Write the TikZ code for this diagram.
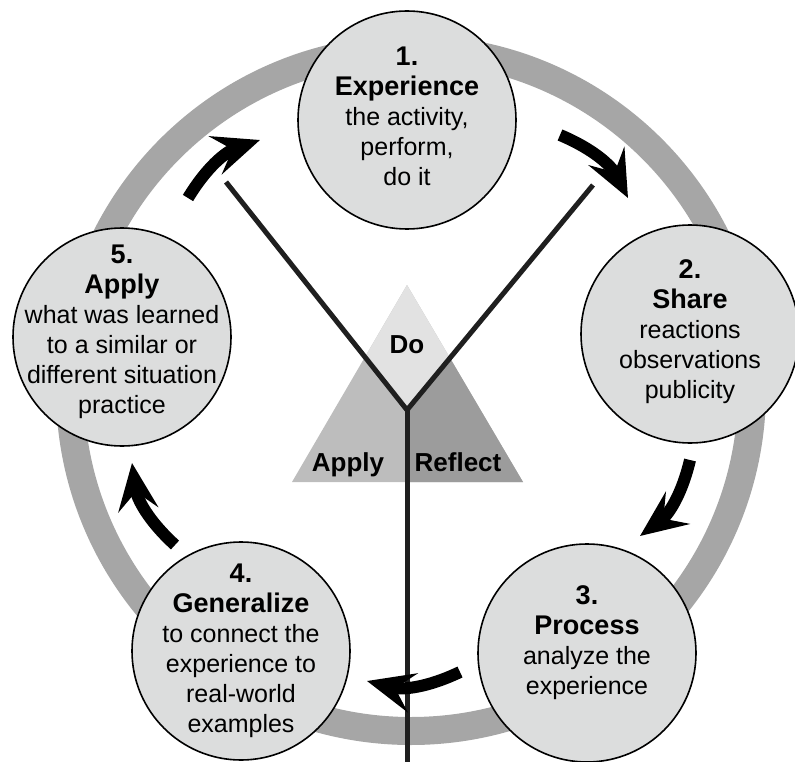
\documentclass[tikz,border=0pt]{standalone}
\usepackage{fontspec}
\setmainfont{Liberation Sans}
\usepackage{tikz}
\usetikzlibrary{arrows.meta}
\definecolor{ringgray}{HTML}{A6A6A6}
\definecolor{stagegray}{HTML}{DCDDDD}
\definecolor{dogray}{HTML}{E2E2E2}
\definecolor{applygray}{HTML}{BDBDBD}
\definecolor{reflectgray}{HTML}{9C9C9C}
\newcommand{\stagehead}[1]{{\bfseries\fontsize{27}{30}\selectfont #1}}

\begin{document}
\begin{tikzpicture}[
  x=1pt, y=1pt,
  stage/.style={circle, draw, line width=1.6pt, fill=stagegray,
                minimum size=218pt, inner sep=0pt},
  stagetext/.style={align=center, inner sep=0pt,
                    font=\fontsize{25}{30}\selectfont},
  turn/.style={line width=12pt, -{Stealth[length=47pt, width=40pt, inset=18pt]}},
  fork/.style={line width=5pt, draw=black!88, line join=miter},
  corner/.style={anchor=base, font=\bfseries\fontsize{26}{30}\selectfont}
]
  \useasboundingbox (0,0) rectangle (795,-762);

  % Ring behind the stages
  \draw[ringgray, line width=28pt] (411,-390) circle[radius=341];

  % Stages
  \node[stage] (exp) at (407,-120) {};
  \node[stage] (share) at (690,-334) {};
  \node[stage] (proc) at (587,-653) {};
  \node[stage] (gen) at (241,-651) {};
  \node[stage] (apply) at (122,-337) {};

  % Stage texts
  \node[stagetext] (exp-txt) at ([yshift=4pt]exp)
    {\stagehead{1.}\\ \stagehead{Experience}\\ the activity,\\ perform,\\ do it};
  \node[stagetext] (share-txt) at ([yshift=2pt]share)
    {\stagehead{2.}\\ \stagehead{Share}\\ reactions\\ observations\\ publicity};
  \node[stagetext] (proc-txt) at ([yshift=10pt]proc)
    {\stagehead{3.}\\ \stagehead{Process}\\ analyze the\\ experience};
  \node[stagetext] (gen-txt) at (gen)
    {\stagehead{4.}\\ \stagehead{Generalize}\\ to connect the\\ experience to\\ real-world\\ examples};
  \node[stagetext] (apply-txt) at ([yshift=5pt]apply)
    {\stagehead{5.}\\ \stagehead{Apply}\\ what was learned\\ to a similar or\\ different situation\\ practice};

  % Fork of the Y
  \coordinate (armL) at (226,-182);
  \coordinate (armR) at (593,-185);
  \coordinate (mid) at (407,-410);
  \coordinate (foot) at (407,-762);

  % Triangle in three parts
  \begin{scope}
    \clip (407,-285) -- (523,-482) -- (292,-482) -- cycle;
    \fill[applygray] (280,-180) rectangle (540,-500);
    \fill[reflectgray] (mid) -- (armR) -- (540,-180) -- (540,-500) -- (407,-500) -- cycle;
    \fill[dogray] (armL) -- (mid) -- (armR) -- cycle;
  \end{scope}

  \draw[fork] (armL) -- (mid) -- (armR);
  \draw[fork] (mid) -- (foot);

  % Labels
  \node[corner] (tdo) at (407,-353) {Do};
  \node[corner] (tapply) at (348,-471) {Apply};
  \node[corner] (treflect) at (458,-471) {Reflect};

  % Arrows
  \coordinate (a1) at (188,-198);  \coordinate (b1) at (260,-140);
  \coordinate (a2) at (560,-135);  \coordinate (b2) at (628,-198);
  \coordinate (a3) at (690,-460);  \coordinate (b3) at (640,-536);
  \coordinate (a4) at (460,-672);  \coordinate (b4) at (367,-681);
  \coordinate (a5) at (175,-545);  \coordinate (b5) at (132,-463);
  \draw[turn] (a1) to[bend left=20] (b1);
  \draw[turn] (a2) to[bend left=20] (b2);
  \draw[turn] (a3) to[bend left=20] (b3);
  \draw[turn] (a4) to[bend left=20] (b4);
  \draw[turn] (a5) to[bend left=20] (b5);
\end{tikzpicture}
\end{document}
